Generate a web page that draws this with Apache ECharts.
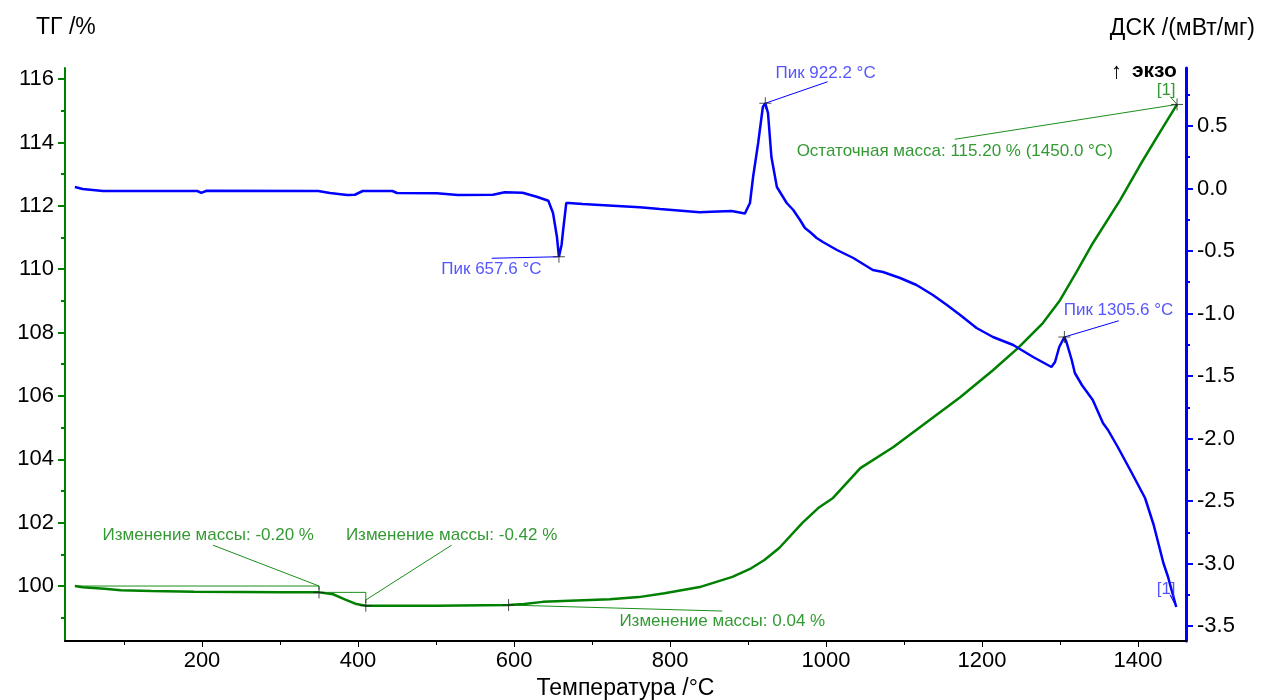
<!DOCTYPE html>
<html>
<head>
<meta charset="utf-8">
<script src="https://cdn.jsdelivr.net/npm/echarts@6/dist/echarts.min.js"></script>
<style>
html, body { margin: 0; padding: 0; background: #fff; }
#chart { width: 1263px; height: 700px; }
</style>
</head>
<body>
<div id="chart"></div>
<script>
// TG curve: temperature (°C) and residual mass (%)
const tgTemp = [37, 47, 75, 96, 135, 190, 250, 300, 350, 368, 383, 398, 410, 427, 500, 593, 613, 637, 680, 723, 760, 793, 840, 880, 904, 921, 940, 970, 990, 1009, 1044, 1086, 1129, 1172, 1214, 1246, 1278, 1300, 1321, 1342, 1377, 1402.5, 1425, 1450];
const tgMass = [100.0, 99.96, 99.915, 99.87, 99.84, 99.82, 99.81, 99.80, 99.80, 99.74, 99.58, 99.43, 99.38, 99.38, 99.38, 99.40, 99.43, 99.50, 99.54, 99.58, 99.65, 99.77, 99.98, 100.29, 100.56, 100.82, 101.2, 102.0, 102.46, 102.78, 103.72, 104.38, 105.17, 105.96, 106.81, 107.51, 108.30, 109.02, 109.91, 110.82, 112.18, 113.28, 114.2, 115.20];

// DSC curve: temperature (°C) and heat flow (mW/mg)
const dscTemp = [37, 47, 73, 194, 199, 206, 349, 364, 386, 396, 406, 444, 450, 501, 528, 573, 588, 611, 629, 644, 650, 655, 657.6, 661, 663, 667, 670, 688, 710, 761, 787, 838, 853, 879, 896, 902.5, 906.5, 913, 919, 922.2, 925.6, 930, 937, 949.6, 958, 966.7, 973, 979.5, 988, 996, 1014, 1035, 1060, 1073, 1095, 1116, 1137, 1155, 1172, 1193, 1214, 1240, 1265.5, 1289, 1293.6, 1299, 1305.6, 1308.6, 1315, 1319, 1328, 1342, 1355, 1361.5, 1374, 1390, 1409, 1420, 1432.5, 1438.5, 1443, 1449];
const dscHeat = [0.012, -0.004, -0.02, -0.02, -0.035, -0.018, -0.02, -0.036, -0.052, -0.05, -0.02, -0.02, -0.036, -0.038, -0.052, -0.05, -0.03, -0.034, -0.066, -0.098, -0.196, -0.386, -0.546, -0.45, -0.332, -0.116, -0.116, -0.124, -0.132, -0.15, -0.164, -0.19, -0.186, -0.18, -0.2, -0.116, 0.092, 0.364, 0.652, 0.682, 0.604, 0.252, 0.012, -0.116, -0.172, -0.252, -0.316, -0.348, -0.396, -0.428, -0.492, -0.556, -0.652, -0.668, -0.716, -0.772, -0.852, -0.932, -1.012, -1.116, -1.188, -1.252, -1.348, -1.428, -1.388, -1.268, -1.188, -1.236, -1.372, -1.476, -1.572, -1.692, -1.876, -1.932, -2.068, -2.252, -2.476, -2.69, -2.996, -3.108, -3.212, -3.348];

// Axis ranges and tick values
const tempRange = [24.36, 1461.5];
const tempMajor = [200, 400, 600, 800, 1000, 1200, 1400];
const tempMinor = [100, 300, 500, 700, 900, 1100, 1300];
const tgRange = [98.265, 116.35];
const tgMajor = [100, 102, 104, 106, 108, 110, 112, 114, 116];
const tgMinor = [99, 101, 103, 105, 107, 109, 111, 113, 115];
const dscRange = [-3.62, 0.964];
const dscMajor = [-3.5, -3.0, -2.5, -2.0, -1.5, -1.0, -0.5, 0.0, 0.5];
const dscMinor = [-3.25, -2.75, -2.25, -1.75, -1.25, -0.75, -0.25, 0.25, 0.75];

// Evaluated DSC peaks (°C, mW/mg) with label anchor points
const peakTemp = [657.6, 922.2, 1305.6];
const peakHeat = [-0.546, 0.682, -1.188];
const peakLeaderEnd = [[571.4, -0.558], [1002, 0.854], [1375.3, -1.058]];
const peakLabelAt = [[571, -0.644], [999.4, 0.924], [1375, -0.972]];

// Mass-change steps: start/end temperatures, start level (%), change (%)
const stepFrom = [37, 350];
const stepTo = [350, 410];
const stepStart = [100.0, 99.80];
const stepChange = [-0.20, -0.42];
const stepLeaderFrom = [[214, 101.29], [520, 101.29]];
const stepLabelAt = [[208, 101.61], [520, 101.61]];

// Mass change above 593 °C
const riseTemp = 593;
const riseLevel = 99.40;
const riseChange = 0.04;
const riseLeaderEnd = [867, 99.21];
const riseLabelAt = [867, 98.9];

// Residual mass at the final temperature
const residualTemp = 1450.0;
const residualMass = 115.20;
const residualLeaderFrom = [1165, 114.1];
const residualLabelAt = [1165, 113.72];
const tgTagAt = [1436, 115.65];
const dscTagAt = [1436, -3.204];
const dscTagLeader = [[1441, -3.25], [1449, -3.348]];
const tgTagLeader = [[1441, 115.45], [1450, 115.2]];

const FONT = '"Liberation Sans", Arial, sans-serif';
const GREEN = '#008000';
const GREEN_THIN = '#1a8f1a';
const BLUE = '#0000ff';
const BLUE_TEXT = '#2b2bff';
const CROSS = 'path://M0,5L10,5M5,0L5,10';

const zip = (a, b) => a.map((v, i) => [v, b[i]]);
const fmt2 = v => v.toFixed(2);

function thinLine(points, color, yIdx) {
  return {
    type: 'line', xAxisIndex: 0, yAxisIndex: yIdx, data: points,
    symbol: 'none', silent: true, animation: false, z: 3,
    lineStyle: { color: color, width: 1 }
  };
}

function textMarks(items, color, yIdx) {
  return {
    type: 'scatter', xAxisIndex: 0, yAxisIndex: yIdx, symbolSize: 0, silent: true, animation: false, z: 6,
    data: items.map(it => ({ value: it.at, label: { formatter: it.text } })),
    label: {
      show: true, position: 'inside', color: color, fontFamily: FONT, fontSize: 17,
      align: 'center', verticalAlign: 'middle'
    }
  };
}

function crossMarks(points, yIdx) {
  return {
    type: 'scatter', xAxisIndex: 0, yAxisIndex: yIdx, data: points, symbol: CROSS, symbolSize: 12,
    silent: true, animation: false, z: 7,
    itemStyle: { color: 'rgba(0,0,0,0)', borderColor: '#222', borderWidth: 1 }
  };
}

const series = [];

// Main curves
series.push({
  type: 'line', name: 'ТГ', xAxisIndex: 0, yAxisIndex: 0, data: zip(tgTemp, tgMass),
  symbol: 'none', animation: false, z: 4, lineStyle: { color: GREEN, width: 2.5 }
});
series.push({
  type: 'line', name: 'ДСК', xAxisIndex: 0, yAxisIndex: 1, data: zip(dscTemp, dscHeat),
  symbol: 'none', animation: false, z: 5, lineStyle: { color: BLUE, width: 2.5 }
});

// Mass-change steps and leaders
const tgTexts = [];
stepFrom.forEach((from, i) => {
  const end = stepStart[i] + stepChange[i];
  series.push(thinLine([[from, stepStart[i]], [stepTo[i], stepStart[i]], [stepTo[i], end + 0.08]], GREEN_THIN, 0));
  series.push(thinLine([stepLeaderFrom[i], [stepTo[i], i === 0 ? stepStart[i] : end + 0.18]], GREEN_THIN, 0));
  tgTexts.push({ at: stepLabelAt[i], text: 'Изменение массы: ' + fmt2(stepChange[i]) + ' %' });
});
series.push(thinLine([[riseTemp, riseLevel], riseLeaderEnd], GREEN_THIN, 0));
tgTexts.push({ at: riseLabelAt, text: 'Изменение массы: ' + fmt2(riseChange) + ' %' });
series.push(thinLine([residualLeaderFrom, [residualTemp, residualMass]], GREEN_THIN, 0));
series.push(thinLine(tgTagLeader, GREEN_THIN, 0));
tgTexts.push({ at: residualLabelAt, text: 'Остаточная масса: ' + residualMass.toFixed(2) + ' % (' + residualTemp.toFixed(1) + ' °C)' });
tgTexts.push({ at: tgTagAt, text: '[1]' });
series.push(textMarks(tgTexts, GREEN, 0));

// Mass-change markers on the TG curve
series.push(crossMarks([
  [stepTo[0], stepStart[0] + stepChange[0]],
  [stepTo[1], stepStart[1] + stepChange[1]],
  [riseTemp, riseLevel],
  [residualTemp, residualMass]
], 0));

// DSC peaks
const dscTexts = [];
peakTemp.forEach((t, i) => {
  series.push(thinLine([[t, peakHeat[i]], peakLeaderEnd[i]], BLUE, 1));
  dscTexts.push({ at: peakLabelAt[i], text: 'Пик ' + t.toFixed(1) + ' °C' });
});
series.push(thinLine(dscTagLeader, BLUE, 1));
dscTexts.push({ at: dscTagAt, text: '[1]' });
series.push(textMarks(dscTexts, BLUE_TEXT, 1));
series.push(crossMarks(zip(peakTemp, peakHeat), 1));

const tickFont = { color: '#000', fontFamily: FONT, fontSize: 22 };

const option = {
  backgroundColor: '#fff',
  animation: false,
  grid: { left: 65, right: 77, top: 68, bottom: 59, containLabel: false, outerBoundsMode: 'none' },
  xAxis: [
    {
      type: 'value', min: tempRange[0], max: tempRange[1], position: 'bottom',
      axisLine: { show: true, onZero: false, lineStyle: { color: '#000', width: 2 } },
      axisTick: { show: true, customValues: tempMajor, length: 6, lineStyle: { color: '#000', width: 1 } },
      axisLabel: Object.assign({ customValues: tempMajor, margin: 9, formatter: v => String(v) }, tickFont),
      splitLine: { show: false },
      name: 'Температура /°C', nameLocation: 'middle', nameGap: 36,
      nameTextStyle: { color: '#000', fontFamily: FONT, fontSize: 23 }
    },
    {
      type: 'value', min: tempRange[0], max: tempRange[1], position: 'bottom', offset: 0,
      axisLine: { show: false, onZero: false },
      axisTick: { show: true, customValues: tempMinor, length: 4, lineStyle: { color: '#000', width: 1 } },
      axisLabel: { show: false }, splitLine: { show: false }
    }
  ],
  yAxis: [
    {
      type: 'value', min: tgRange[0], max: tgRange[1], position: 'left',
      axisLine: { show: true, onZero: false, lineStyle: { color: GREEN, width: 2 } },
      axisTick: { show: true, customValues: tgMajor, length: 7, lineStyle: { color: GREEN, width: 2 } },
      axisLabel: Object.assign({ customValues: tgMajor, margin: 11 }, tickFont),
      splitLine: { show: false }
    },
    {
      type: 'value', min: dscRange[0], max: dscRange[1], position: 'right',
      axisLine: { show: true, onZero: false, lineStyle: { color: BLUE, width: 3 } },
      axisTick: { show: true, customValues: dscMajor, length: 7, lineStyle: { color: BLUE, width: 2 } },
      axisLabel: Object.assign({
        customValues: dscMajor, margin: 11,
        formatter: v => v.toFixed(1)
      }, tickFont),
      splitLine: { show: false }
    },
    {
      type: 'value', min: tgRange[0], max: tgRange[1], position: 'left', offset: 0,
      axisLine: { show: false, onZero: false },
      axisTick: { show: true, customValues: tgMinor, length: 4, lineStyle: { color: GREEN, width: 2 } },
      axisLabel: { show: false }, splitLine: { show: false }
    },
    {
      type: 'value', min: dscRange[0], max: dscRange[1], position: 'right', offset: 0,
      axisLine: { show: false, onZero: false },
      axisTick: { show: true, customValues: dscMinor, length: 4, lineStyle: { color: BLUE, width: 2 } },
      axisLabel: { show: false }, splitLine: { show: false }
    }
  ],
  graphic: [
    { type: 'text', left: 36, top: 16, style: { text: 'ТГ /%', fill: '#000', font: '23px ' + FONT } },
    { type: 'text', right: 8, top: 17, style: { text: 'ДСК /(мВт/мг)', fill: '#000', font: '23px ' + FONT } },
    { type: 'text', left: 1111, top: 61, style: { text: '↑', fill: '#000', font: '22px ' + FONT } },
    { type: 'text', left: 1132, top: 61, style: { text: 'экзо', fill: '#000', font: 'bold 21px ' + FONT } }
  ],
  series: series
};

const chart = echarts.init(document.getElementById('chart'), null, { renderer: 'canvas' });
chart.setOption(option);
</script>
</body>
</html>
